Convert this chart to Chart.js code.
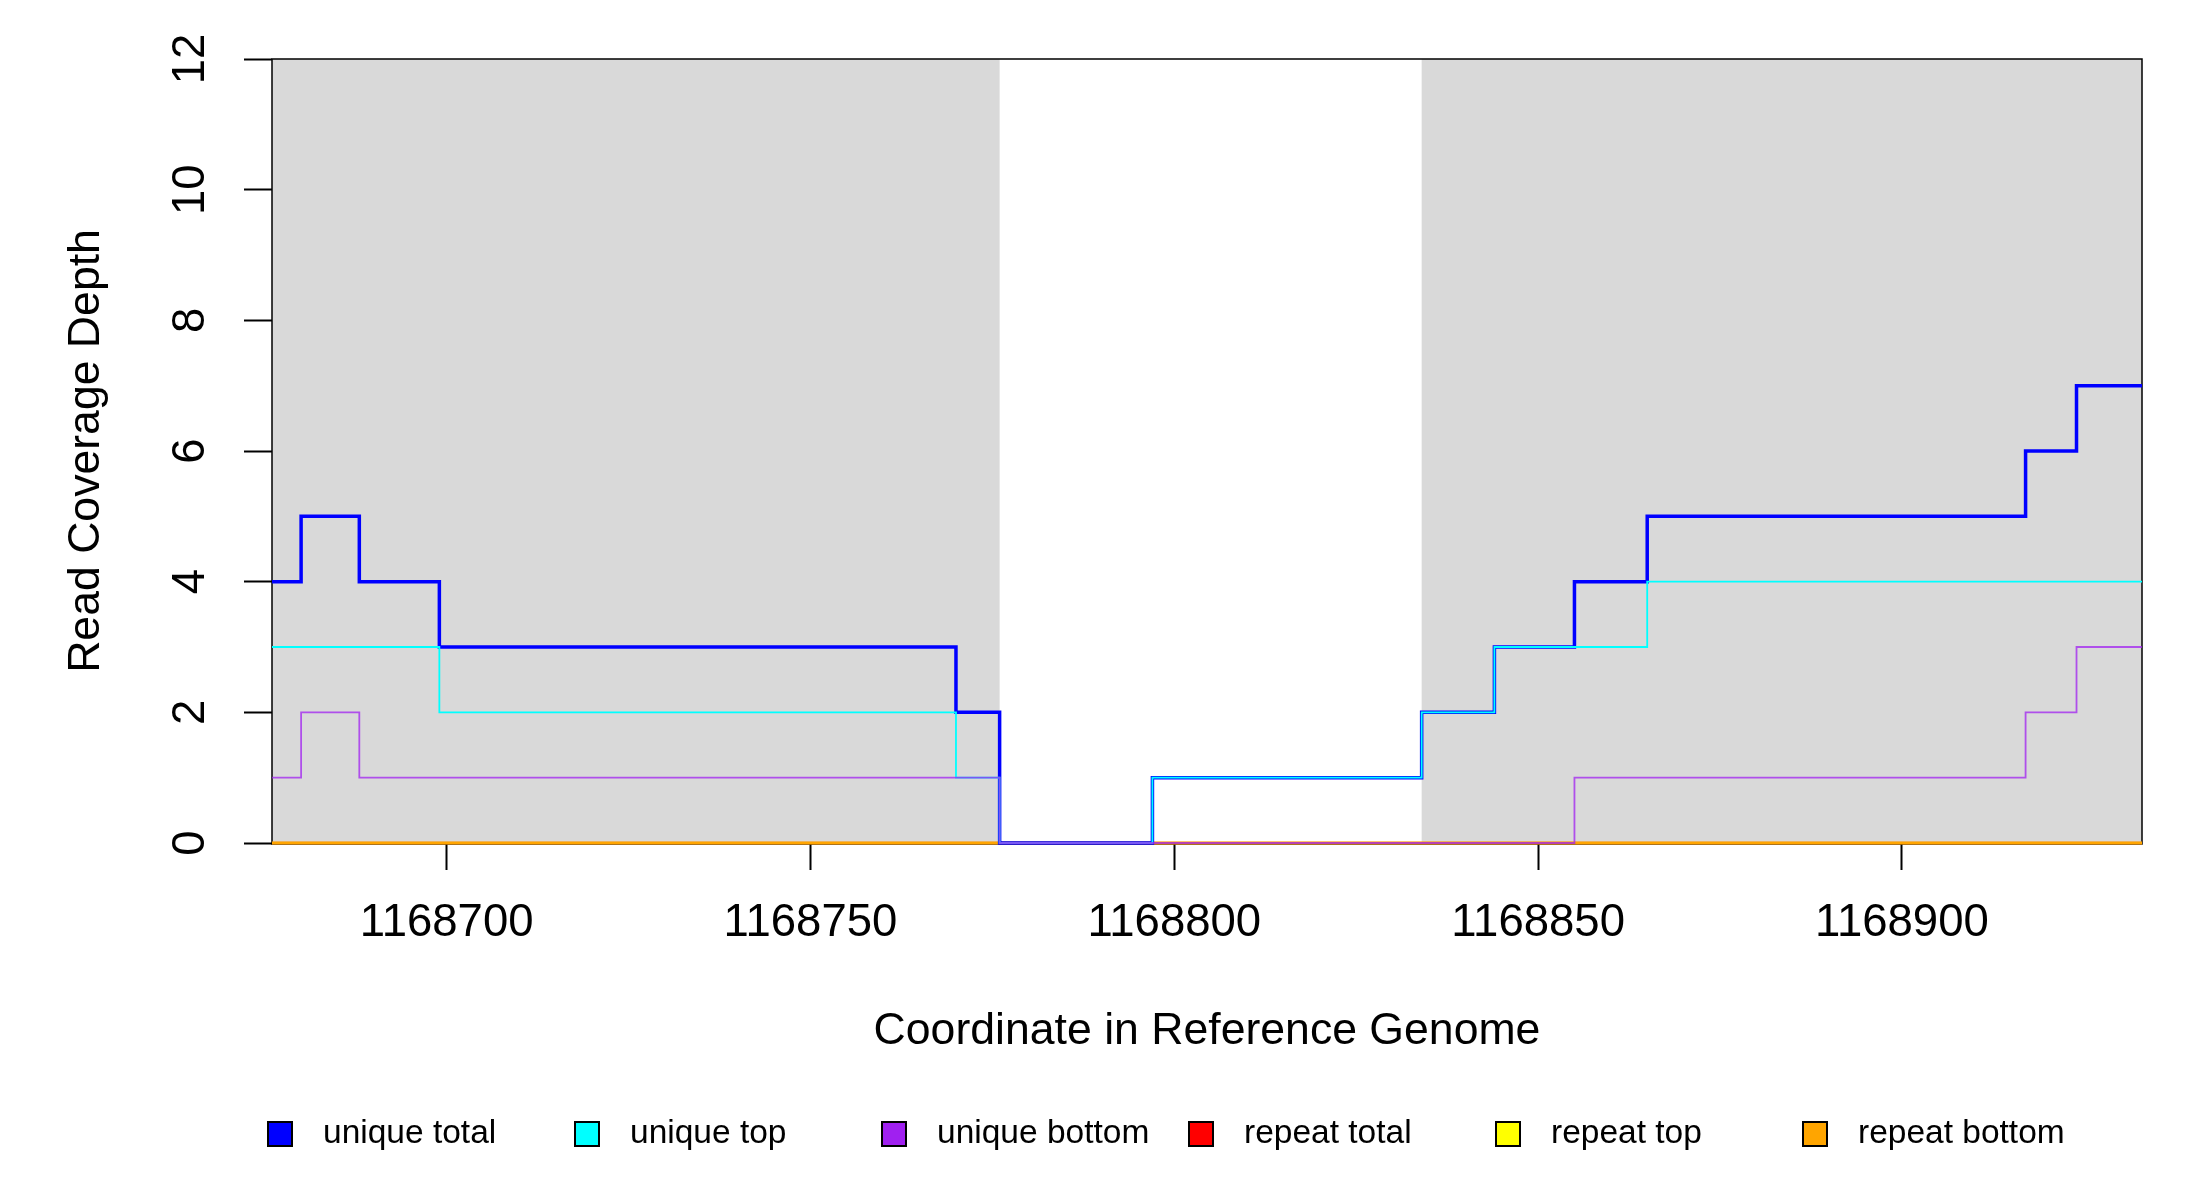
<!DOCTYPE html>
<html>
<head>
<meta charset="utf-8">
<title>Read Coverage Depth</title>
<script src="https://cdn.jsdelivr.net/npm/chart.js@4.4.0/dist/chart.umd.min.js"></script>
<style>
  html, body { margin: 0; padding: 0; background: #fff; }
  #wrap { width: 2200px; height: 1200px; }
</style>
</head>
<body>
<div id="wrap"><canvas id="coverage" width="2200" height="1200"></canvas></div>
<script>
// coverage steps: each value holds from its position up to the next one
var positions    = [1168676, 1168680, 1168688, 1168699, 1168770, 1168776, 1168797, 1168834, 1168844, 1168855, 1168865, 1168917, 1168924, 1168933];
var uniqueTotal  = [4, 5, 4, 3, 2, 0, 1, 2, 3, 4, 5, 6, 7, 7];
var uniqueTop    = [3, 3, 3, 2, 1, 0, 1, 2, 3, 3, 4, 4, 4, 4];
var uniqueBottom = [1, 2, 1, 1, 1, 0, 0, 0, 0, 1, 1, 2, 3, 3];
var repeatTotal  = [0, 0, 0, 0, 0, 0, 0, 0, 0, 0, 0, 0, 0, 0];
var repeatTop    = [0, 0, 0, 0, 0, 0, 0, 0, 0, 0, 0, 0, 0, 0];
var repeatBottom = [0, 0, 0, 0, 0, 0, 0, 0, 0, 0, 0, 0, 0, 0];

var seriesNames  = ['unique total', 'unique top', 'unique bottom', 'repeat total', 'repeat top', 'repeat bottom'];
var seriesColors = ['#0000FF', '#00FFFF', '#A020F0', '#FF0000', '#FFFF00', '#FFA500'];

// shaded regions on the reference
var shadeStart = [1168676, 1168834];
var shadeEnd   = [1168776, 1168933];

var xTicks = [1168700, 1168750, 1168800, 1168850, 1168900];
var yTicks = [0, 2, 4, 6, 8, 10, 12];

var FONT = '"Liberation Sans", Arial, Helvetica, sans-serif';

function steps(values) {
  return positions.map(function(p, i) { return {x: p, y: values[i]}; });
}

// grey bands and the plot frame, under the lines
var shadePlugin = {
  id: 'shade',
  beforeDatasetsDraw: function(chart) {
    var ctx = chart.ctx, area = chart.chartArea, xs = chart.scales.x;
    ctx.save();
    ctx.fillStyle = '#D9D9D9';
    for (var i = 0; i < shadeStart.length; i++) {
      var a = Math.max(area.left, xs.getPixelForValue(shadeStart[i]));
      var b = Math.min(area.right, xs.getPixelForValue(shadeEnd[i]));
      ctx.fillRect(a, area.top, b - a, area.bottom - area.top);
    }
    ctx.strokeStyle = '#000';
    ctx.lineWidth = 1.5;
    ctx.strokeRect(area.left, area.top, area.right - area.left, area.bottom - area.top + 1);
    ctx.restore();
  }
};

var legendPlugin = {
  id: 'rLegend',
  afterDraw: function(chart) {
    var ctx = chart.ctx;
    ctx.save();
    ctx.font = '33.5px ' + FONT;
    ctx.textBaseline = 'middle';
    ctx.textAlign = 'left';
    chart.data.datasets.forEach(function(ds, i) {
      var x = 268 + i * 307, y = 1134;
      ctx.fillStyle = seriesColors[i];
      ctx.fillRect(x, y - 12, 24, 24);
      ctx.lineWidth = 2;
      ctx.strokeStyle = '#000';
      ctx.strokeRect(x, y - 12, 24, 24);
      ctx.fillStyle = '#000';
      ctx.fillText(ds.label, x + 55, y);
    });
    ctx.restore();
  }
};

var lineWidths = [3.5, 1.8, 1.8, 2.5, 2.5, 2.5];
var lineColors = ['#0000FF', '#00FFFF', 'rgba(160,32,240,0.75)', '#FF0000', '#FFFF00', '#FFA500'];
var drawOrder  = [2, 1, 0, 5, 4, 3];
var allSeries  = [uniqueTotal, uniqueTop, uniqueBottom, repeatTotal, repeatTop, repeatBottom];

var datasets = allSeries.map(function(vals, i) {
  return {
    label: seriesNames[i],
    data: steps(vals),
    borderColor: lineColors[i],
    backgroundColor: seriesColors[i],
    borderWidth: lineWidths[i],
    stepped: 'before',
    pointRadius: 0,
    fill: false,
    clip: false,
    order: drawOrder[i]
  };
});

new Chart(document.getElementById('coverage'), {
  type: 'line',
  data: { datasets: datasets },
  options: {
    responsive: false,
    animation: false,
    devicePixelRatio: 1,
    layout: { padding: { left: 0, right: 58, top: 59, bottom: 0 } },
    plugins: {
      legend: { display: false },
      tooltip: { enabled: false }
    },
    scales: {
      x: {
        type: 'linear',
        min: 1168676,
        max: 1168933,
        afterBuildTicks: function(axis) {
          axis.ticks = xTicks.map(function(v) { return {value: v}; });
        },
        afterFit: function(axis) { axis.height = 357; },
        grid: { drawOnChartArea: false, drawTicks: true, tickLength: 27, tickColor: '#000', tickWidth: 2 },
        border: { display: false },
        ticks: {
          color: '#000',
          font: { family: FONT, size: 45.5 },
          padding: 26,
          maxRotation: 0,
          autoSkip: false,
          callback: function(v) { return String(v); }
        },
        title: {
          display: true,
          text: 'Coordinate in Reference Genome',
          color: '#000',
          font: { family: FONT, size: 44.6 },
          padding: { top: 0, bottom: 142 }
        }
      },
      y: {
        min: 0,
        max: 12,
        afterBuildTicks: function(axis) {
          axis.ticks = yTicks.map(function(v) { return {value: v}; });
        },
        afterFit: function(axis) { axis.width = 272; },
        grid: { drawOnChartArea: false, drawTicks: true, tickLength: 28, tickColor: '#000', tickWidth: 2 },
        border: { display: false },
        ticks: {
          color: '#000',
          font: { family: FONT, size: 45.5 },
          padding: 27,
          minRotation: 90,
          maxRotation: 90,
          crossAlign: 'center',
          callback: function(v) { return String(v); }
        },
        title: {
          display: true,
          text: 'Read Coverage Depth',
          color: '#000',
          font: { family: FONT, size: 44.6 },
          padding: { top: 60, bottom: 0 }
        }
      }
    }
  },
  plugins: [shadePlugin, legendPlugin]
});
</script>
</body>
</html>
